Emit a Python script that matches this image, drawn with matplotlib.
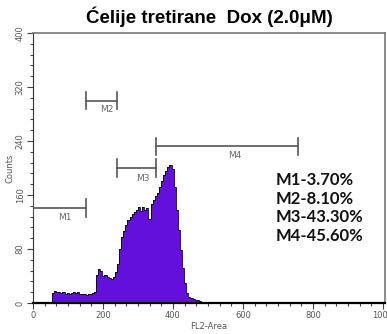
import matplotlib
matplotlib.use("Agg")
import matplotlib.pyplot as plt
from matplotlib.ticker import MultipleLocator

# histogram: FL2-Area channels, bins of 6 starting at 54
bin_start = 54
bin_width = 6
counts = [15, 18, 17, 16, 15, 16, 14, 15, 13, 15, 16, 15, 17, 14, 13, 14, 12, 13, 14, 15, 17,
          42, 51, 47, 40, 41, 38, 37, 35, 38, 46, 58, 80, 98, 107, 115, 123, 127, 132, 135,
          138, 142, 137, 143, 138, 141, 124, 146, 152, 158, 163, 172, 181, 190, 196, 201,
          204, 199, 172, 138, 108, 78, 52, 30, 15, 9, 7, 6, 5, 4, 3, 2, 1]

# markers: name, start, end, level, label x, label y
marker_names = ["M1", "M2", "M3", "M4"]
marker_start = [0, 151, 240, 351]
marker_end = [151, 240, 351, 757]
marker_level = [141, 300, 200, 232]
label_x = [91, 211, 314, 577]
label_y = [127, 286, 185, 218]

pct_text = ["M1-3.70%", "M2-8.10%", "M3-43.30%", "M4-45.60%"]

edges = [bin_start + i * bin_width for i in range(len(counts) + 1)]

fig = plt.figure(figsize=(3.87, 3.34), dpi=100)
ax = fig.add_axes([0.0853, 0.0928, 0.9097, 0.8082])

ax.stairs(counts, edges, fill=True, color="#6410dc", zorder=2)
ax.stairs(counts, edges, color="black", linewidth=0.6, zorder=3)

for i in range(len(marker_names)):
    y = marker_level[i]
    ax.plot([marker_start[i], marker_end[i]], [y, y], color="#555555", lw=1.2, zorder=4)
    for xe in (marker_start[i], marker_end[i]):
        ax.plot([xe, xe], [y - 13, y + 13], color="#555555", lw=1.2, zorder=4)
    ax.text(label_x[i], label_y[i], marker_names[i], fontsize=6.5, color="#666666",
            ha="center", va="center")

for i, t in enumerate(pct_text):
    ax.text(0.688, 0.455 - i * 0.069, t, transform=ax.transAxes, fontsize=12,
            fontfamily="Lato", fontweight="bold", color="#111111", va="center", ha="left")

ax.set_xlim(0, 1006)
ax.set_ylim(0, 400)
ax.xaxis.set_major_locator(MultipleLocator(200))
ax.xaxis.set_minor_locator(MultipleLocator(200 / 6))
ax.yaxis.set_major_locator(MultipleLocator(80))
ax.yaxis.set_minor_locator(MultipleLocator(16))
ax.tick_params(which="both", direction="out", colors="#444444", labelsize=6,
               labelcolor="#555555", width=0.8)
ax.tick_params(which="major", length=4, pad=2)
ax.tick_params(which="minor", length=2.5)
for lab in ax.get_yticklabels():
    lab.set_rotation(90)
    lab.set_va("center")

for side in ("top", "right"):
    ax.spines[side].set_color("#777777")
    ax.spines[side].set_linewidth(1.2)
ax.spines["left"].set_color("#333333")
ax.spines["bottom"].set_color("black")
ax.spines["bottom"].set_linewidth(1.6)

ax.set_xlabel("FL2-Area", fontsize=6, color="#555555", labelpad=1)
ax.set_ylabel("Counts", fontsize=6, color="#555555", labelpad=1)

fig.text(0.54, 0.949, "Ćelije tretirane  Dox (2.0μM)", fontsize=13.5, fontweight="bold",
         fontfamily="Liberation Sans", ha="center", va="center")

fig.savefig("out.png", dpi=100)
